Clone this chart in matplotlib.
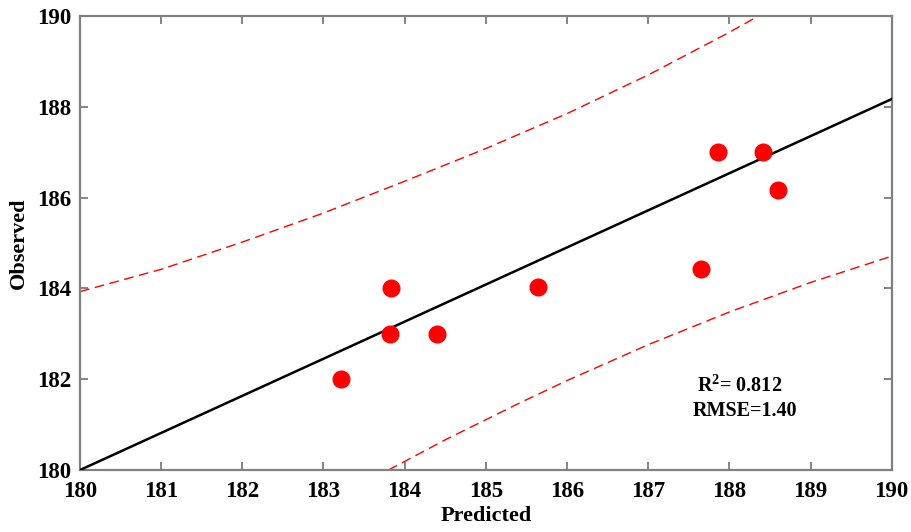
import matplotlib
matplotlib.use("Agg")
import matplotlib.pyplot as plt

# observed vs predicted values
predicted = [183.22, 183.83, 183.82, 184.40, 185.64, 187.65, 187.86, 188.41, 188.60]
observed = [182.0, 184.0, 183.0, 183.0, 184.02, 184.42, 187.0, 187.0, 186.17]

# fitted line end points
fit_x = [180, 190]
fit_y = [180, 188.17]

# prediction band
upper_x = [180, 181, 182, 183, 184, 185, 186, 187, 188, 188.36]
upper_y = [183.93, 184.42, 185.02, 185.66, 186.36, 187.08, 187.85, 188.70, 189.64, 190.0]
lower_x = [183.8, 184.5, 185.42, 186, 187, 188, 189, 190]
lower_y = [180.0, 180.665, 181.48, 181.97, 182.76, 183.48, 184.13, 184.71]

xticks = list(range(180, 191))
yticks = list(range(180, 191, 2))

plt.rcParams['font.family'] = ['Liberation Serif', 'DejaVu Serif']
plt.rcParams['font.weight'] = 'bold'
plt.rcParams['mathtext.fontset'] = 'custom'
plt.rcParams['mathtext.rm'] = 'Liberation Serif:bold'
plt.rcParams['mathtext.bf'] = 'Liberation Serif:bold'

fig = plt.figure(figsize=(9.11, 5.32), dpi=100)
ax = fig.add_axes([0.0878, 0.1165, 0.891, 0.8535])

ax.plot(fit_x, fit_y, color='black', lw=1.8, zorder=3)
ax.plot(upper_x, upper_y, color='red', lw=1.0, dashes=(7, 4), zorder=2)
ax.plot(lower_x, lower_y, color='red', lw=1.0, dashes=(7, 4), zorder=2)
ax.plot(predicted, observed, 'o', color='red', markersize=12, zorder=4)

ax.set_xlim(180, 190)
ax.set_ylim(180, 190)
ax.set_xticks(xticks)
ax.set_yticks(yticks)
ax.tick_params(direction='in', length=6, width=1.2, color='#707070',
               top=True, right=True, labelsize=16.5)
ax.tick_params(axis='x', pad=8)
ax.tick_params(axis='y', pad=6)
for s in ax.spines.values():
    s.set_color('#808080')
    s.set_linewidth(1.6)

ax.set_xlabel('Predicted', fontsize=16, fontweight='bold', labelpad=3)
ax.set_ylabel('Observed', fontsize=16, fontweight='bold', labelpad=6)

ax.text(187.6, 181.73, r'R$^{\mathrm{2}}$= 0.812', fontsize=14.5, fontweight='bold')
ax.text(187.55, 181.2, 'RMSE=1.40', fontsize=14.5, fontweight='bold')

fig.savefig('out.png', dpi=100)
